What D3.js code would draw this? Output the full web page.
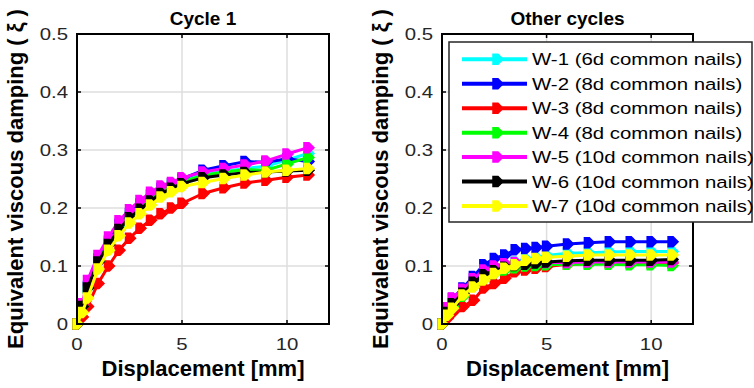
<!DOCTYPE html>
<html><head><meta charset="utf-8">
<script src="https://cdn.jsdelivr.net/npm/d3@7"></script>
<style>body{margin:0;background:#fff}svg{display:block}</style>
</head><body>
<svg id="c" width="754" height="388"></svg>
<script>
const seriesNames = ["W-1 (6d common nails)","W-2 (8d common nails)","W-3 (8d common nails)","W-4 (8d common nails)","W-5 (10d common nails)","W-6 (10d common nails)","W-7 (10d common nails)"];
const seriesColors = ["#00ffff","#0000ff","#ff0000","#00ff00","#ff00ff","#000000","#ffff00"];
const displacement = [0,0.25,0.5,1,1.5,2,2.5,3,3.5,4,4.5,5,6,7,8,9,10,11];
const cycle1 = [
  [0,0.030,0.064,0.110,0.140,0.168,0.187,0.203,0.217,0.230,0.239,0.247,0.258,0.263,0.268,0.272,0.283,0.294],
  [0,0.030,0.065,0.112,0.143,0.172,0.190,0.207,0.222,0.234,0.242,0.250,0.265,0.273,0.280,0.279,0.285,0.280],
  [0,0.012,0.030,0.070,0.100,0.127,0.148,0.165,0.179,0.190,0.200,0.208,0.225,0.235,0.243,0.248,0.253,0.257],
  [0,0.030,0.062,0.108,0.138,0.165,0.185,0.200,0.214,0.227,0.237,0.245,0.256,0.262,0.266,0.265,0.276,0.287],
  [0,0.035,0.075,0.118,0.150,0.178,0.197,0.213,0.227,0.238,0.244,0.252,0.262,0.268,0.274,0.281,0.293,0.304],
  [0,0.030,0.062,0.107,0.137,0.163,0.183,0.198,0.212,0.225,0.234,0.242,0.252,0.257,0.261,0.262,0.264,0.265],
  [0,0.020,0.045,0.095,0.127,0.152,0.174,0.190,0.205,0.219,0.228,0.237,0.244,0.251,0.257,0.262,0.265,0.268]
];
const otherCycles = [
  [0,0.020,0.035,0.055,0.070,0.085,0.095,0.100,0.107,0.112,0.115,0.118,0.122,0.123,0.124,0.125,0.125,0.125],
  [0,0.025,0.044,0.062,0.082,0.102,0.113,0.119,0.128,0.130,0.132,0.134,0.138,0.140,0.142,0.142,0.142,0.142],
  [0,0.010,0.020,0.030,0.041,0.062,0.070,0.079,0.090,0.093,0.096,0.099,0.103,0.104,0.105,0.105,0.105,0.105],
  [0,0.018,0.030,0.048,0.065,0.078,0.087,0.093,0.097,0.100,0.101,0.102,0.103,0.103,0.103,0.102,0.102,0.101],
  [0,0.028,0.045,0.060,0.078,0.093,0.100,0.104,0.106,0.105,0.106,0.106,0.106,0.107,0.107,0.107,0.107,0.107],
  [0,0.020,0.035,0.053,0.072,0.085,0.092,0.098,0.101,0.103,0.105,0.107,0.109,0.110,0.110,0.110,0.110,0.111],
  [0,0.015,0.027,0.050,0.064,0.076,0.087,0.096,0.102,0.110,0.113,0.115,0.117,0.119,0.119,0.119,0.119,0.119]
];
const xTicks = [0,5,10];
const yTicks = [0,0.1,0.2,0.3,0.4,0.5];
const titles = ["Cycle 1","Other cycles"];
const xLabel = "Displacement [mm]";
const yLabel = "Equivalent viscous damping ( ξ )";

const svg = d3.select("#c");
const FONT = "'Liberation Sans', Arial, Helvetica, sans-serif";
const SX = 1.2;
const panels = [
  {x0:77, x1:329, data:cycle1, title:titles[0]},
  {x0:442, x1:693, data:otherCycles, title:titles[1]}
];
const yTop = 34, yBot = 324;
const markerPath = "M-4,-5 L1,-5 L6,0 L1,5 L-4,5 Z";

panels.forEach((p, pi) => {
  const x = d3.scaleLinear().domain([0,12]).range([p.x0, p.x1]);
  const y = d3.scaleLinear().domain([0,0.5]).range([yBot, yTop]);
  const g = svg.append("g");
  // grid
  g.selectAll(".gx").data(xTicks.filter(t => t > 0)).enter().append("line")
    .attr("x1", d => x(d)).attr("x2", d => x(d)).attr("y1", yTop).attr("y2", yBot)
    .attr("stroke", "#dedede").attr("stroke-width", 1.5);
  g.selectAll(".gy").data(yTicks.filter(t => t > 0 && t < 0.5)).enter().append("line")
    .attr("y1", d => y(d)).attr("y2", d => y(d)).attr("x1", p.x0).attr("x2", p.x1)
    .attr("stroke", "#dedede").attr("stroke-width", 1.5);
  // series
  const line = d3.line().x((d, i) => x(displacement[i])).y(d => y(d));
  p.data.forEach((vals, si) => {
    g.append("path").attr("d", line(vals)).attr("fill", "none")
      .attr("stroke", seriesColors[si]).attr("stroke-width", 3).attr("stroke-linejoin", "round");
    g.selectAll(null).data(vals).enter().append("path")
      .attr("d", markerPath)
      .attr("transform", (d, i) => `translate(${x(displacement[i])},${y(d)})`)
      .attr("fill", seriesColors[si]).attr("stroke", seriesColors[si]).attr("stroke-width", 1.5);
  });
  // box
  g.append("rect").attr("x", p.x0).attr("y", yTop).attr("width", p.x1 - p.x0).attr("height", yBot - yTop)
    .attr("fill", "none").attr("stroke", "#000").attr("stroke-width", 2);
  // ticks (inward, all sides)
  xTicks.forEach(t => {
    g.append("line").attr("x1", x(t)).attr("x2", x(t)).attr("y1", yBot).attr("y2", yBot - 4).attr("stroke", "#000").attr("stroke-width", 1.5);
    g.append("line").attr("x1", x(t)).attr("x2", x(t)).attr("y1", yTop).attr("y2", yTop + 4).attr("stroke", "#000").attr("stroke-width", 1.5);
    g.append("text").attr("transform", `translate(${x(t)},${yBot + 26}) scale(${SX},1)`)
      .attr("text-anchor", "middle").attr("font-family", FONT).attr("font-size", 17).attr("fill", "#262626").text(t);
  });
  yTicks.forEach(t => {
    g.append("line").attr("x1", p.x0).attr("x2", p.x0 + 4).attr("y1", y(t)).attr("y2", y(t)).attr("stroke", "#000").attr("stroke-width", 1.5);
    g.append("line").attr("x1", p.x1).attr("x2", p.x1 - 4).attr("y1", y(t)).attr("y2", y(t)).attr("stroke", "#000").attr("stroke-width", 1.5);
    g.append("text").attr("transform", `translate(${p.x0 - 9},${y(t) + 6}) scale(${SX},1)`)
      .attr("text-anchor", "end").attr("font-family", FONT).attr("font-size", 17).attr("fill", "#262626").text(t);
  });
  // title
  g.append("text").attr("x", (p.x0 + p.x1) / 2).attr("y", 25).attr("text-anchor", "middle")
    .attr("font-family", FONT).attr("font-weight", "bold").attr("font-size", 19).text(p.title);
  // axis labels
  g.append("text").attr("x", (p.x0 + p.x1) / 2).attr("y", 376).attr("text-anchor", "middle")
    .attr("font-family", FONT).attr("font-weight", "bold").attr("font-size", 22).text(xLabel);
  g.append("text").attr("transform", `translate(${p.x0 - 54},${(yTop + yBot) / 2}) rotate(-90)`)
    .attr("text-anchor", "middle").attr("font-family", FONT).attr("font-weight", "bold").attr("font-size", 22).text(yLabel);
});

// legend
const lg = svg.append("g");
lg.append("rect").attr("x", 449).attr("y", 42).attr("width", 303).attr("height", 180)
  .attr("fill", "#fff").attr("stroke", "#262626").attr("stroke-width", 1.5);
seriesNames.forEach((name, i) => {
  const cy = 59.3 + i * 24.45;
  lg.append("line").attr("x1", 462).attr("x2", 527).attr("y1", cy).attr("y2", cy)
    .attr("stroke", seriesColors[i]).attr("stroke-width", 4);
  lg.append("path").attr("d", markerPath).attr("transform", `translate(497,${cy})`)
    .attr("fill", seriesColors[i]).attr("stroke", seriesColors[i]).attr("stroke-width", 1.5);
  lg.append("text").attr("transform", `translate(532,${cy + 6}) scale(${SX},1)`)
    .attr("font-family", FONT).attr("font-size", 17).attr("fill", "#000").text(name);
});
</script>
</body></html>
